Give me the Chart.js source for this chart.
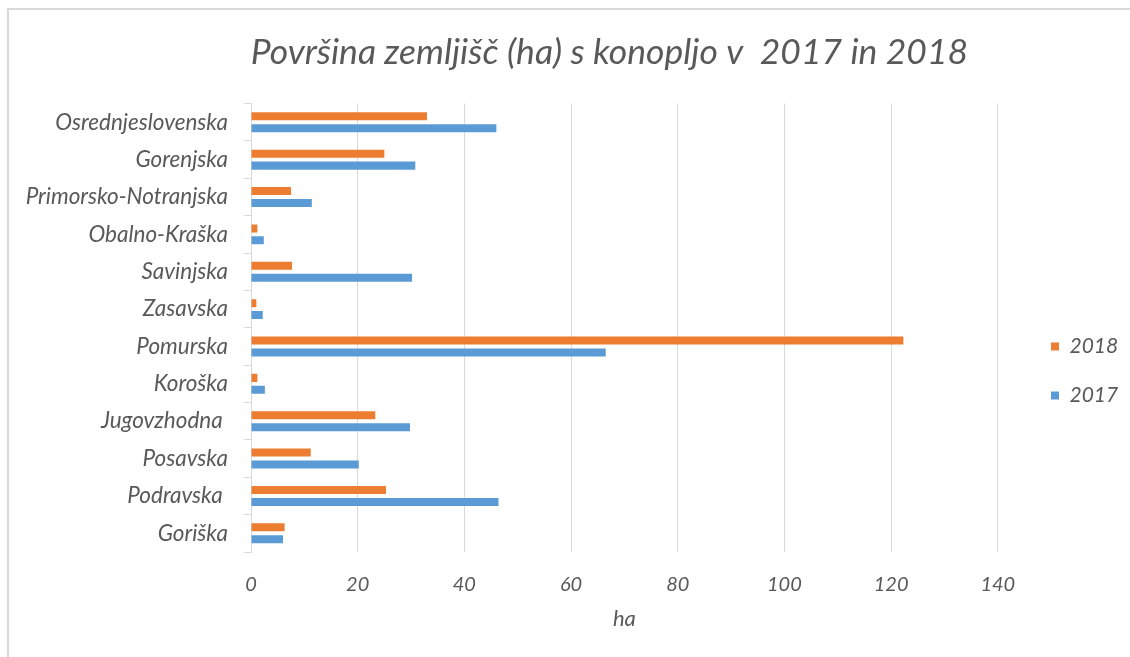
<!DOCTYPE html>
<html>
<head>
<meta charset="utf-8">
<script src="https://cdn.jsdelivr.net/npm/chart.js@4"></script>
<style>
body{margin:0;background:#fff;}
#wrap{position:relative;width:1130px;height:657px;}
#frame{position:absolute;left:7px;top:8px;right:0;bottom:0;border-top:2px solid #d9d9d9;border-left:2px solid #d9d9d9;}
canvas{position:absolute;left:0;top:0;}
</style>
</head>
<body>
<div id="wrap">
<div id="frame"></div>
<canvas id="areaChart" width="1130" height="657"></canvas>
</div>
<script>
const regions = ["Osrednjeslovenska","Gorenjska","Primorsko-Notranjska","Obalno-Kraška","Savinjska","Zasavska","Pomurska","Koroška","Jugovzhodna ","Posavska","Podravska ","Goriška"];
const ha2018 = [33,25,7.5,1.2,7.7,1.0,122.3,1.2,23.3,11.2,25.3,6.3];
const ha2017 = [46,30.8,11.4,2.4,30.2,2.2,66.5,2.6,29.8,20.2,46.4,6.0];
const xTicks = [0,20,40,60,80,100,120,140];

const textGray = "#595959";
const lineGray = "#d9d9d9";
const fontFam = "Lato, 'Open Sans', sans-serif";

Chart.defaults.font.family = fontFam;
Chart.defaults.color = textGray;

// nudge title and legend to where the original sits
const placeBoxes = {
id:"placeBoxes",
afterLayout(chart){
const lg = chart.legend;
const w = lg.right - lg.left;
lg.left = 1023; lg.right = 1023 + w;
lg.top += 55; lg.bottom += 55;
const tb = chart.titleBlock;
tb.left -= 15; tb.right -= 15;
}
};

new Chart(document.getElementById("areaChart"),{
type:"bar",
data:{
labels:regions,
datasets:[{
label:"2018",
data:ha2018,
backgroundColor:"#ed7d31",
categoryPercentage:0.64,
barPercentage:0.67
},{
label:"2017",
data:ha2017,
backgroundColor:"#5b9bd5",
categoryPercentage:0.64,
barPercentage:0.67
}]
},
options:{
indexAxis:"y",
responsive:false,
animation:false,
layout:{padding:{top:0,bottom:25,left:0,right:27}},
plugins:{
title:{
display:true,
text:"Površina zemljišč (ha) s konopljo v  2017 in 2018",
fullSize:false,
color:textGray,
font:{size:35.5,style:"italic",weight:"normal"},
padding:{top:31,bottom:30}
},
legend:{
position:"right",
labels:{
boxWidth:8,
boxHeight:8,
padding:28,
color:textGray,
font:{size:21,style:"italic"}
}
},
tooltip:{enabled:false}
},
scales:{
x:{
min:0,
max:140,
afterBuildTicks(scale){
scale.ticks = xTicks.map(v=>({value:v}));
},
afterFit(scale){scale.height = 80;},
grid:{color:lineGray,drawTicks:false},
border:{display:false},
ticks:{padding:21,font:{size:20,style:"italic"}},
title:{
display:true,
text:"ha",
font:{size:22,style:"italic"},
padding:{top:11,bottom:0}
}
},
y:{
afterFit(scale){scale.width = 251;},
grid:{drawOnChartArea:false,color:lineGray,tickLength:7},
border:{color:lineGray},
ticks:{padding:16,font:{size:22.5,style:"italic"}}
}
}
},
plugins:[placeBoxes]
});
</script>
</body>
</html>
